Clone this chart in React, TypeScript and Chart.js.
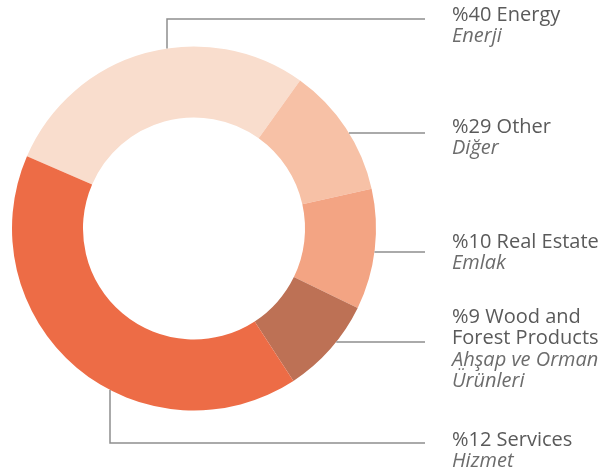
import React, { useEffect, useRef } from "react";
import { Chart, registerables } from "chart.js";

Chart.register(...registerables);

// Slices as drawn, clockwise from the start angle
const sliceNames = ["Energy", "Other", "Real Estate", "Wood and Forest Products", "Services"];
const sliceValues = [28.4, 11.6, 10.7, 8.6, 40.7];
const sliceColors = ["#f9ddcd", "#f7c1a6", "#f3a483", "#bd7155", "#ed6c46"];

// Annotation texts
const labelTitles = [["%40 Energy"], ["%29 Other"], ["%10 Real Estate"], ["%9 Wood and", "Forest Products"], ["%12 Services"]];
const labelSubtitles = [["Enerji"], ["Diğer"], ["Emlak"], ["Ahşap ve Orman", "Ürünleri"], ["Hizmet"]];

export default function App() {
  const canvasRef = useRef<HTMLCanvasElement | null>(null);

  useEffect(() => {
    document.body.style.margin = "0";
    const canvas = canvasRef.current;
    if (!canvas) return;

    // layout of annotations
    const textX = 452;
    const lineEndX = 425;
    const lineH = 21.3;
    const firstBaselines = [21, 133, 248, 323, 446];
    const leaders: { kind: "top" | "bottom" | "h"; at: number; elbowY?: number }[] = [
      { kind: "top", at: 167, elbowY: 19 },
      { kind: "h", at: 133 },
      { kind: "h", at: 252 },
      { kind: "h", at: 342 },
      { kind: "bottom", at: 110, elbowY: 443 },
    ];

    const annotate = {
      id: "annotate",
      afterDraw(chart: any) {
        const ctx = chart.ctx as CanvasRenderingContext2D;
        const arc = chart.getDatasetMeta(0).data[0] as any;
        const cx = arc.x, cy = arc.y, R = arc.outerRadius;
        ctx.save();
        ctx.strokeStyle = "#8e8e8e";
        ctx.lineWidth = 1.5;
        leaders.forEach((l) => {
          ctx.beginPath();
          if (l.kind === "h") {
            const x0 = cx + Math.sqrt(Math.max(0, R * R - (l.at - cy) ** 2));
            ctx.moveTo(x0, l.at);
            ctx.lineTo(lineEndX, l.at);
          } else {
            const d = Math.sqrt(Math.max(0, R * R - (l.at - cx) ** 2));
            const y0 = l.kind === "top" ? cy - d : cy + d;
            ctx.moveTo(l.at, y0);
            ctx.lineTo(l.at, l.elbowY!);
            ctx.lineTo(lineEndX, l.elbowY!);
          }
          ctx.stroke();
        });
        ctx.textAlign = "left";
        ctx.textBaseline = "alphabetic";
        labelTitles.forEach((lines, i) => {
          let y = firstBaselines[i];
          ctx.font = "20px 'Open Sans'";
          ctx.fillStyle = "#5a5a5a";
          lines.forEach((t) => {
            ctx.fillText(t, textX, y);
            y += lineH;
          });
          ctx.font = "italic 20px 'Open Sans'";
          ctx.fillStyle = "#6c6c6c";
          labelSubtitles[i].forEach((t) => {
            ctx.fillText(t, textX, y);
            y += lineH;
          });
        });
        ctx.restore();
      },
    };

    const chart = new Chart(canvas, {
      type: "doughnut",
      data: {
        labels: sliceNames,
        datasets: [
          {
            data: sliceValues,
            backgroundColor: sliceColors,
            borderWidth: 0,
          },
        ],
      },
      options: {
        animation: false,
        responsive: false,
        cutout: "61%",
        rotation: -66.6,
        layout: { padding: { left: 12, right: 238, top: 46.5, bottom: 63.5 } },
        plugins: {
          legend: { display: false },
          tooltip: { enabled: false },
        },
      },
      plugins: [annotate],
    });

    return () => chart.destroy();
  }, []);

  return (
    <div style={{ width: 614, height: 474, background: "#ffffff" }}>
      <canvas ref={canvasRef} width={614} height={474} />
    </div>
  );
}
